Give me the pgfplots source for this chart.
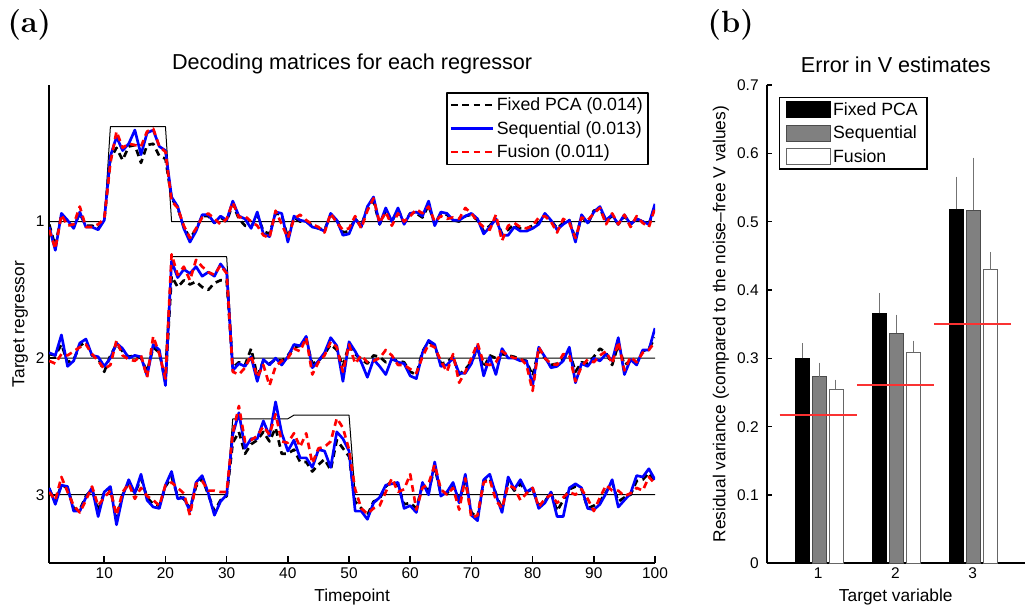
\documentclass[border=0pt]{standalone}
\usepackage{fontspec}
\usepackage{pgfplots}
\usepackage{pgfplotstable}
\pgfplotsset{compat=1.18}
\newfontfamily\lsans{Liberation Sans}
\newcommand{\tickfont}{\lsans\fontsize{11.6pt}{13pt}\selectfont}
\newcommand{\labfont}{\lsans\fontsize{13pt}{15pt}\selectfont}
\newcommand{\legfont}{\lsans\fontsize{13.3pt}{15pt}\selectfont}
\newcommand{\titfont}{\lsans\fontsize{16.2pt}{18pt}\selectfont}
\definecolor{refline}{RGB}{250,50,50}

\pgfplotstableread{
t k b r
1 1.02 1.04 1.06
2 1.18 1.21 1.20
3 0.95 0.94 0.95
4 1.00 0.99 1.03
5 1.04 1.05 1.02
6 0.94 0.93 0.89
7 1.03 1.04 1.04
8 1.03 1.04 1.04
9 1.05 1.06 1.02
10 0.99 0.99 0.98
11 0.54 0.52 0.57
12 0.46 0.38 0.34
13 0.55 0.48 0.46
14 0.45 0.43 0.43
15 0.44 0.33 0.44
16 0.57 0.51 0.45
17 0.44 0.35 0.34
18 0.43 0.33 0.32
19 0.52 0.45 0.45
20 0.54 0.48 0.49
21 0.83 0.82 0.85
22 0.90 0.89 0.90
23 1.04 1.05 1.03
24 1.12 1.15 1.12
25 1.06 1.07 1.05
26 0.96 0.95 0.97
27 0.96 0.95 0.94
28 1.01 1.01 0.98
29 0.97 0.96 1.02
30 1.00 0.99 0.98
31 0.87 0.85 0.86
32 0.98 0.96 0.97
33 1.03 0.98 0.96
34 1.04 1.05 1.00
35 0.95 0.93 1.03
36 1.07 1.09 1.10
37 1.09 1.11 1.12
38 0.94 0.93 0.92
39 0.95 0.94 1.02
40 1.12 1.15 1.12
41 0.97 0.96 0.98
42 1.00 0.99 0.95
43 1.00 1.00 0.99
44 1.03 1.04 1.02
45 1.05 1.05 1.04
46 1.06 1.07 1.08
47 0.95 0.94 0.94
48 0.99 0.99 1.01
49 1.08 1.10 1.06
50 1.07 1.09 1.05
51 0.98 0.98 0.96
52 1.03 1.04 1.05
53 0.90 0.89 0.92
54 0.85 0.82 0.83
55 1.02 1.02 1.01
56 0.92 0.90 0.93
57 1.00 1.00 1.03
58 0.91 0.90 0.94
59 1.01 1.02 1.00
60 0.94 0.94 0.96
61 0.94 0.93 0.91
62 0.97 0.96 0.94
63 0.88 0.85 0.89
64 1.02 1.03 1.00
65 0.94 0.93 0.96
66 0.95 0.94 0.98
67 0.99 0.99 0.97
68 1.00 0.99 0.98
69 0.96 0.96 0.90
70 0.95 0.94 0.94
71 0.99 0.98 1.00
72 1.07 1.09 1.04
73 1.03 1.04 1.06
74 0.98 0.98 0.95
75 1.09 1.10 1.14
76 1.06 1.10 1.03
77 1.02 1.04 1.01
78 1.05 1.07 1.04
79 1.05 1.07 1.05
80 1.03 1.05 1.03
81 1.01 1.02 0.97
82 0.95 0.94 0.96
83 0.99 0.99 1.00
84 1.05 1.06 1.08
85 1.01 1.02 0.98
86 0.99 0.99 1.01
87 1.13 1.15 1.12
88 0.96 0.95 0.97
89 1.02 1.01 0.99
90 0.92 0.93 0.94
91 0.91 0.89 0.90
92 0.99 0.99 1.02
93 0.96 0.95 0.94
94 1.02 1.02 1.02
95 0.96 0.95 0.95
96 1.02 1.02 1.04
97 0.98 0.98 0.96
98 1.00 1.00 1.01
99 1.02 1.02 1.04
100 0.89 0.87 0.90
}\trA

\pgfplotstableread{
t k b r
1 1.97 1.96 2.02
2 1.98 1.98 2.04
3 1.90 1.83 1.97
4 2.03 2.06 1.98
5 2.01 2.02 1.95
6 1.91 1.89 1.92
7 1.88 1.86 1.90
8 1.98 1.98 1.97
9 2.00 1.99 2.02
10 2.10 2.06 2.08
11 1.98 2.00 2.05
12 1.90 1.89 1.87
13 1.95 1.93 1.98
14 1.99 2.00 2.01
15 1.98 1.98 2.02
16 2.00 1.99 1.98
17 2.10 2.13 2.14
18 1.92 1.90 1.84
19 1.96 1.94 1.97
20 2.17 2.20 2.15
21 1.40 1.29 1.24
22 1.48 1.41 1.39
23 1.43 1.35 1.33
24 1.46 1.38 1.43
25 1.44 1.33 1.28
26 1.48 1.40 1.33
27 1.50 1.37 1.37
28 1.45 1.40 1.39
29 1.43 1.31 1.32
30 1.43 1.37 1.38
31 2.07 2.09 2.10
32 2.03 2.04 2.12
33 2.05 2.06 2.07
34 1.93 1.99 1.98
35 2.13 2.17 2.14
36 2.02 2.01 2.05
37 2.04 2.05 2.20
38 2.01 2.00 2.06
39 2.02 2.05 2.02
40 1.98 1.99 2.00
41 1.92 1.90 1.93
42 1.91 1.91 1.95
43 1.87 1.84 1.85
44 2.04 2.07 2.12
45 2.02 2.02 2.03
46 1.97 1.96 1.98
47 1.90 1.85 1.88
48 1.94 1.91 1.92
49 2.06 2.17 2.10
50 1.90 1.88 1.90
51 1.97 1.95 2.04
52 2.01 2.03 1.98
53 2.04 2.14 2.03
54 1.98 2.01 2.02
55 1.99 2.06 2.00
56 2.03 2.12 1.94
57 2.01 2.00 1.98
58 2.02 2.03 2.05
59 2.03 2.04 2.05
60 2.10 2.13 2.08
61 2.12 2.15 2.11
62 1.95 1.96 1.99
63 1.88 1.87 1.90
64 1.91 1.90 1.92
65 2.04 2.06 2.02
66 2.03 2.05 2.10
67 1.99 2.00 1.97
68 2.12 2.11 2.18
69 2.08 2.11 2.10
70 2.03 2.04 2.00
71 1.93 1.91 1.89
72 2.07 2.13 2.04
73 1.98 1.99 2.05
74 2.00 2.12 2.03
75 1.97 1.93 1.95
76 1.98 2.00 1.98
77 1.99 2.00 2.00
78 2.01 2.02 2.00
79 2.02 2.02 2.05
80 2.13 2.20 2.24
81 1.94 1.92 1.92
82 2.00 1.99 2.00
83 2.05 2.07 2.04
84 2.04 2.06 2.05
85 2.01 2.02 1.97
86 1.95 1.92 1.98
87 2.10 2.18 2.17
88 2.03 2.04 2.06
89 2.04 2.06 2.01
90 1.99 2.00 2.03
91 1.93 2.02 1.98
92 1.96 1.97 1.95
93 2.05 2.02 2.04
94 1.90 1.85 1.88
95 2.05 2.12 2.09
96 2.02 2.01 1.99
97 2.04 2.05 2.03
98 1.95 1.94 1.96
99 1.93 1.94 1.94
100 1.85 1.78 1.88
}\trB

\pgfplotstableread{
t k b r
1 2.96 2.95 2.98
2 3.05 3.07 3.04
3 2.93 2.93 2.87
4 2.95 2.94 2.98
5 3.10 3.12 3.08
6 3.11 3.12 3.13
7 3.01 3.02 3.04
8 2.96 2.95 2.94
9 3.12 3.16 3.08
10 2.98 2.98 3.02
11 2.95 2.94 2.97
12 3.18 3.22 3.15
13 3.00 3.01 2.98
14 2.91 2.89 2.92
15 2.99 2.99 3.03
16 2.88 2.85 2.95
17 3.02 3.04 3.01
18 3.07 3.09 3.04
19 3.08 3.10 3.08
20 2.94 2.93 2.93
21 2.87 2.83 2.91
22 3.01 3.03 2.95
23 3.03 3.02 2.99
24 3.10 3.12 3.15
25 2.94 2.91 2.92
26 2.88 2.86 2.90
27 3.00 2.99 2.97
28 3.12 3.15 2.97
29 3.04 3.05 2.98
30 3.01 3.00 2.98
31 2.62 2.56 2.55
32 2.54 2.40 2.35
33 2.70 2.66 2.61
34 2.63 2.59 2.60
35 2.60 2.59 2.57
36 2.54 2.46 2.50
37 2.61 2.57 2.56
38 2.51 2.32 2.41
39 2.70 2.55 2.61
40 2.70 2.68 2.62
41 2.67 2.60 2.55
42 2.76 2.73 2.65
43 2.76 2.73 2.55
44 2.83 2.80 2.77
45 2.78 2.67 2.66
46 2.74 2.68 2.65
47 2.82 2.80 2.61
48 2.60 2.54 2.44
49 2.66 2.59 2.51
50 2.72 2.68 2.67
51 3.05 3.12 2.96
52 3.10 3.12 3.10
53 3.15 3.18 3.14
54 3.05 3.06 3.10
55 3.03 3.02 3.08
56 2.94 2.93 2.98
57 2.90 2.92 2.88
58 2.93 2.91 2.98
59 3.07 3.10 2.96
60 3.06 3.08 2.85
61 3.10 3.13 3.11
62 2.93 2.91 2.95
63 2.97 3.00 2.92
64 2.80 2.76 2.78
65 2.99 3.01 2.96
66 2.99 2.98 3.00
67 2.93 2.91 2.95
68 3.04 3.06 3.11
69 2.90 2.85 2.88
70 3.13 3.15 3.17
71 3.17 3.19 3.15
72 2.90 2.89 2.91
73 2.88 2.85 2.89
74 2.99 3.00 3.04
75 3.11 3.13 3.10
76 2.90 2.87 2.93
77 2.97 2.96 2.95
78 2.92 2.89 3.04
79 2.98 2.98 2.99
80 2.96 2.95 2.95
81 3.08 3.10 3.09
82 3.05 3.06 3.03
83 2.98 2.98 3.00
84 3.12 3.16 3.06
85 3.04 3.16 3.02
86 2.96 2.95 2.98
87 2.94 2.92 3.00
88 2.96 2.95 2.96
89 3.10 3.10 3.03
90 3.08 3.11 3.12
91 3.05 3.07 3.02
92 2.98 2.99 2.93
93 2.91 2.89 2.97
94 3.05 3.09 2.97
95 3.02 3.04 3.01
96 3.00 2.99 2.99
97 2.90 2.86 2.95
98 2.89 2.87 2.97
99 2.84 2.81 2.87
100 2.91 2.89 2.92
}\trC

\begin{document}
\begin{tikzpicture}
\useasboundingbox (0,0) rectangle (768.75pt,456pt);

\node[font=\bfseries\fontsize{23pt}{25pt}\selectfont] at (22pt,437pt) {(a)};
\node[font=\bfseries\fontsize{23pt}{25pt}\selectfont] at (548pt,437pt) {(b)};

% ---------------- panel (a)
\begin{axis}[
  at={(36.9pt,33.75pt)}, anchor=south west,
  width=454.35pt, height=358.5pt, scale only axis,
  xmin=1, xmax=100, ymin=0, ymax=3.5, y dir=reverse,
  axis lines*=left,
  axis line style={line width=1.5pt, -},
  xtick={10,20,30,40,50,60,70,80,90,100},
  ytick={1,2,3},
  tick align=inside, major tick length=5pt,
  tick style={line width=1.2pt, black},
  /pgf/number format/assume math mode=true,
  xticklabel style={font=\tickfont},
  yticklabel style={font=\tickfont},
  xlabel={Timepoint}, ylabel={Target regressor},
  xlabel style={font=\labfont, at={(axis description cs:0.5,-0.071)}, anchor=center},
  ylabel style={font=\labfont, at={(axis description cs:-0.048,0.5)}, anchor=center},
  title={Decoding matrices for each regressor},
  title style={font=\titfont, at={(axis description cs:0.5,1)}, anchor=center, yshift=9.5pt},
  legend style={at={(1,1)}, anchor=north east, xshift=-4.7pt, yshift=-5.5pt,
    draw=black, line width=1pt, font=\legfont, inner xsep=2pt, inner ysep=1.5pt,
    row sep=2.5pt, cells={anchor=west}},
  legend image code/.code={\draw[#1] (0pt,0pt) -- (31.5pt,0pt);},
  line join=round,
]
\addplot[black, line width=0.75pt, forget plot] coordinates {(1,1) (10,1) (11,0.305) (20,0.305) (21,1) (100,1)};
\addplot[black, line width=0.75pt, forget plot] coordinates {(1,2) (20,2) (21,1.257) (30,1.257) (31,2) (100,2)};
\addplot[black, line width=0.75pt, forget plot] coordinates {(1,3) (30,3) (31,2.444) (40,2.444) (41,2.417) (50,2.417) (51,3) (100,3)};

\addplot[black, line width=2pt, dash pattern=on 5pt off 3.5pt] table[x=t,y=k]{\trA};
\addplot[blue, line width=2pt] table[x=t,y=b]{\trA};
\addplot[red, line width=2pt, dash pattern=on 5pt off 3.5pt] table[x=t,y=r]{\trA};

\addplot[black, line width=2pt, dash pattern=on 5pt off 3.5pt, forget plot] table[x=t,y=k]{\trB};
\addplot[blue, line width=2pt, forget plot] table[x=t,y=b]{\trB};
\addplot[red, line width=2pt, dash pattern=on 5pt off 3.5pt, forget plot] table[x=t,y=r]{\trB};

\addplot[black, line width=2pt, dash pattern=on 5pt off 3.5pt, forget plot] table[x=t,y=k]{\trC};
\addplot[blue, line width=2pt, forget plot] table[x=t,y=b]{\trC};
\addplot[red, line width=2pt, dash pattern=on 5pt off 3.5pt, forget plot] table[x=t,y=r]{\trC};

\legend{Fixed PCA (0.014), Sequential (0.013), Fusion (0.011)}
\end{axis}

% ---------------- panel (b)
\begin{axis}[
  at={(575pt,33.5pt)}, anchor=south west,
  width=193.7pt, height=358.7pt, scale only axis,
  xmin=0.332, xmax=3.678, ymin=0, ymax=0.7,
  axis lines*=left,
  axis line style={line width=1.5pt, -},
  xtick={1,2,3},
  ytick={0,0.1,0.2,0.3,0.4,0.5,0.6,0.7},
  yticklabels={0,0.1,0.2,0.3,0.4,0.5,0.6,0.7},
  tick align=inside, major tick length=4pt,
  tick style={line width=1pt, black},
  /pgf/number format/assume math mode=true,
  xticklabel style={font=\tickfont},
  yticklabel style={font=\tickfont, xshift=-2.5pt},
  xlabel={Target variable},
  ylabel={Residual variance (compared to the noise–free V values)},
  xlabel style={font=\labfont, at={(axis description cs:0.5,-0.071)}, anchor=center},
  ylabel style={font=\labfont, at={(axis description cs:-0.177,0.5)}, anchor=center},
  title={Error in V estimates},
  title style={font=\titfont, at={(axis description cs:0.5,1)}, anchor=center, yshift=9.5pt},
  legend style={at={(0,1)}, anchor=north west, xshift=9.2pt, yshift=-9pt,
    draw=black, line width=1pt, font=\legfont, inner xsep=5pt, inner ysep=1.5pt,
    row sep=2.5pt, cells={anchor=west}},
  legend image code/.code={\draw[#1, line width=0.6pt] (0pt,-6pt) rectangle (32.5pt,6pt);},
  unbounded coords=jump,
]
\addplot[ybar, bar width=0.18, bar shift=0, fill=black, draw=black, line width=0.6pt,
  error bars/.cd, y dir=plus, y explicit,
  error bar style={line width=0.75pt, color=black!55},
  error mark options={line width=0.75pt, color=black!55, mark size=2pt}]
  coordinates {(0.79,0.300) +- (0,0.018) (1.79,0.366) +- (0,0.026) (2.79,0.518) +- (0,0.044)};
\addplot[ybar, bar width=0.18, bar shift=0, fill=black!50, draw=black!70, line width=0.6pt,
  error bars/.cd, y dir=plus, y explicit,
  error bar style={line width=0.75pt, color=black!55},
  error mark options={line width=0.75pt, color=black!55, mark size=2pt}]
  coordinates {(1.01,0.273) +- (0,0.017) (2.01,0.337) +- (0,0.023) (3.01,0.517) +- (0,0.073)};
\addplot[ybar, bar width=0.18, bar shift=0, fill=white, draw=black!60, line width=0.6pt,
  error bars/.cd, y dir=plus, y explicit,
  error bar style={line width=0.75pt, color=black!55},
  error mark options={line width=0.75pt, color=black!55, mark size=2pt}]
  coordinates {(1.23,0.255) +- (0,0.010) (2.23,0.309) +- (0,0.013) (3.23,0.430) +- (0,0.022)};

\addplot[draw=refline, line width=1.3pt, forget plot] coordinates {(0.5,0.217) (1.5,0.217) (1.5,nan) (1.5,0.261) (2.5,0.261) (2.5,nan) (2.5,0.350) (3.5,0.350)};

\legend{Fixed PCA\hspace{8pt}, Sequential, Fusion}
\end{axis}
\end{tikzpicture}
\end{document}
